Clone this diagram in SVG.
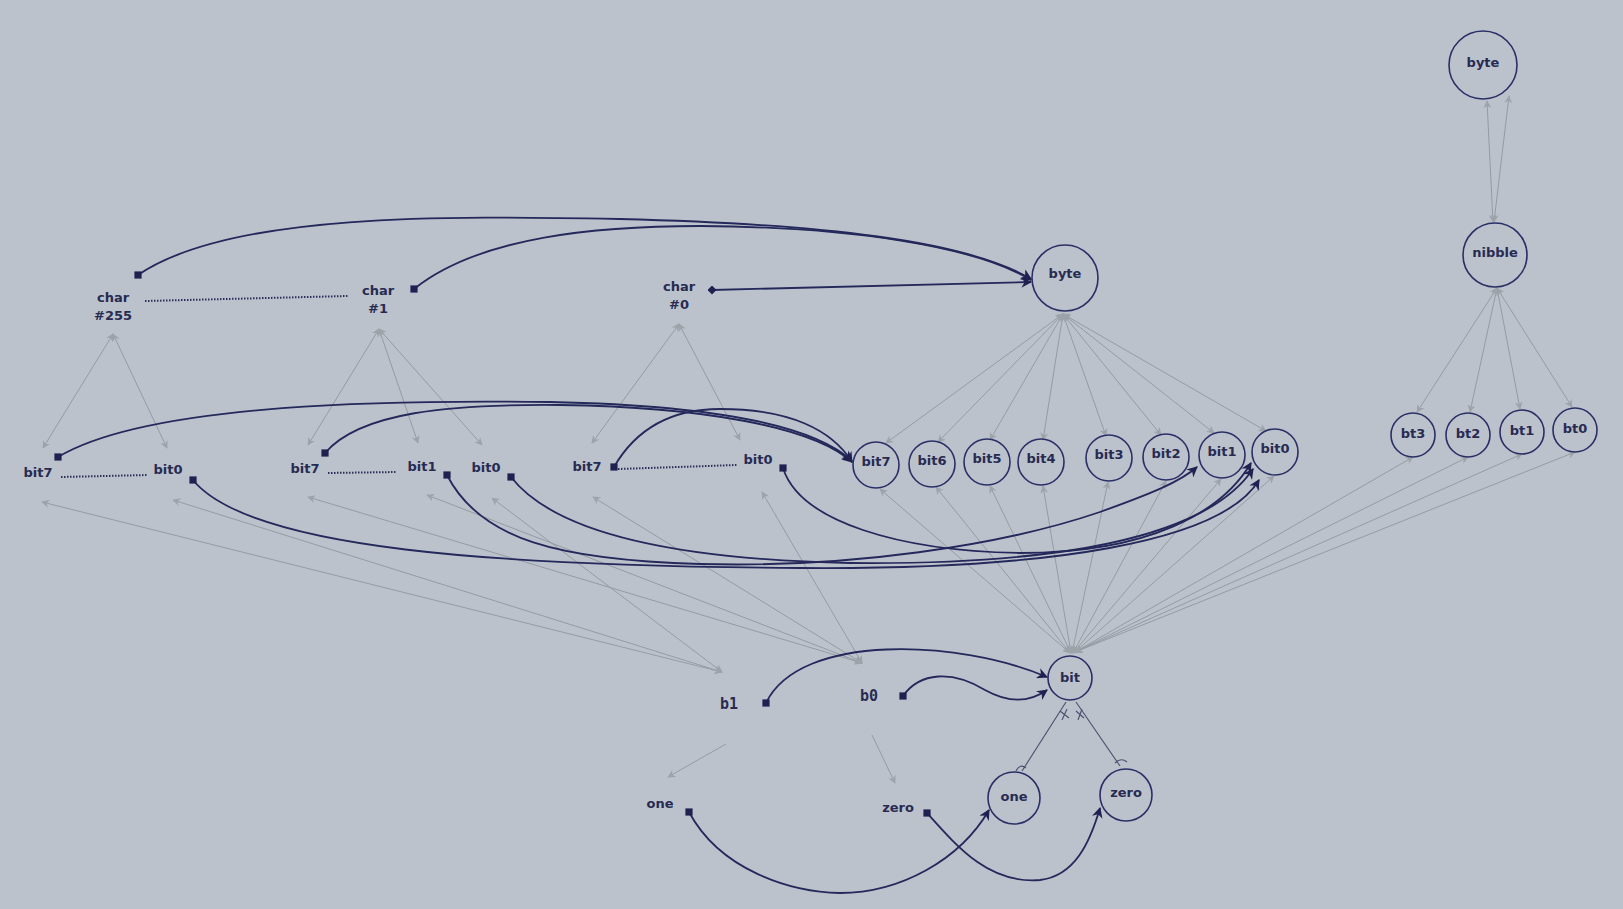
<svg xmlns="http://www.w3.org/2000/svg" width="1623" height="909" viewBox="0 0 1623 909">
<defs>
<style>
.bg{fill:#bcc2cc}
.t{font-family:"DejaVu Sans","Liberation Sans",sans-serif;font-weight:bold;font-size:13px;fill:#272b52;text-anchor:middle}
.tm{font-family:"DejaVu Sans Mono","Liberation Mono",monospace;font-weight:bold;font-size:15px;fill:#272b52;text-anchor:middle}
.c{fill:none;stroke:#2a2f66;stroke-width:1.6}
.g{fill:none;stroke:#959ba3;stroke-width:1;marker-start:url(#ga);marker-end:url(#ga)}
.d{fill:none;stroke:#24285a;stroke-width:1.8;marker-start:url(#sq);marker-end:url(#da)}
.dot{fill:none;stroke:#2a2e5a;stroke-width:2;stroke-dasharray:1.5 1.5}
.inh{fill:none;stroke:#4a4f70;stroke-width:1.1}
</style>
<marker id="ga" viewBox="0 0 10 10" refX="9" refY="5" markerWidth="8" markerHeight="8" orient="auto-start-reverse"><path d="M0,0 L10,5 L0,10 L3,5 z" fill="#9ea3aa"/></marker>
<marker id="da" viewBox="0 0 10 10" refX="9" refY="5" markerWidth="6" markerHeight="6" orient="auto"><path d="M0,0 L10,5 L0,10 L3,5 z" fill="#1f2250"/></marker>
<marker id="sq" viewBox="0 0 10 10" refX="5" refY="5" markerWidth="4" markerHeight="4"><rect width="10" height="10" fill="#1f2250"/></marker>
<marker id="dm" viewBox="0 0 10 10" refX="5" refY="5" markerWidth="5" markerHeight="5"><path d="M5,0 L10,5 L5,10 L0,5 z" fill="#1f2250"/></marker>
</defs>
<rect class="bg" x="0" y="0" width="1623" height="909"/>

<g id="connectors">
<path class="g" d="M113,334 L43,448"/>
<path class="g" d="M113,334 L167,448"/>
<path class="g" d="M379,329 L308,445"/>
<path class="g" d="M379,329 L418,443"/>
<path class="g" d="M379,329 L482,445"/>
<path class="g" d="M679,324 L592,443"/>
<path class="g" d="M679,324 L740,440"/>
<path class="g" d="M1063,314 L886,443"/>
<path class="g" d="M1063,314 L938,442"/>
<path class="g" d="M1063,314 L990,440"/>
<path class="g" d="M1063,314 L1043,440"/>
<path class="g" d="M1063,314 L1106,436"/>
<path class="g" d="M1063,314 L1161,435"/>
<path class="g" d="M1063,314 L1214,433"/>
<path class="g" d="M1063,314 L1266,431"/>
<path class="g" d="M880,489 L1070,653"/>
<path class="g" d="M936,487 L1070,653"/>
<path class="g" d="M990,486 L1071,653"/>
<path class="g" d="M1043,486 L1071,653"/>
<path class="g" d="M1108,482 L1072,653"/>
<path class="g" d="M1166,481 L1073,653"/>
<path class="g" d="M1221,479 L1073,653"/>
<path class="g" d="M1274,476 L1074,653"/>
<path class="g" d="M1413,457 L1075,652"/>
<path class="g" d="M1468,457 L1075,652"/>
<path class="g" d="M1522,454 L1075,652"/>
<path class="g" d="M1575,452 L1075,652"/>
<path class="g" d="M1487,101 L1493,222"/>
<path class="g" d="M1509,96 L1494,222"/>
<path class="g" d="M1497,288 L1417,412"/>
<path class="g" d="M1497,288 L1470,412"/>
<path class="g" d="M1497,288 L1520,409"/>
<path class="g" d="M1497,288 L1572,407"/>
<path class="g" d="M42,502 L722,672"/>
<path class="g" d="M173,500 L722,672"/>
<path class="g" d="M492,498 L722,672"/>
<path class="g" d="M308,497 L862,663"/>
<path class="g" d="M427,495 L862,663"/>
<path class="g" d="M593,497 L862,663"/>
<path class="g" d="M762,492 L862,663"/>
<path class="g" d="M726,744 L668,777" style="marker-start:none"/>
<path class="g" d="M872,735 L895,783" style="marker-start:none"/>

<path class="dot" d="M145,301 L348,296"/>
<path class="dot" d="M61,477 L148,475"/>
<path class="dot" d="M328,473 L397,472"/>
<path class="dot" d="M618,469 L737,465"/>

<path class="inh" d="M1066,702 L1022,771"/>
<path class="inh" d="M1076,702 L1120,766"/>
<path class="inh" d="M1060,711 L1069,718 M1067,709 L1062,720"/>
<path class="inh" d="M1076,711 L1084,718 M1082,709 L1078,720"/>
<path class="inh" d="M1016,771 Q1020,763 1026,768"/>
<path class="inh" d="M1115,763 Q1121,757 1127,762"/>

<path class="d" d="M138,275 C230,212 450,216 620,219 C820,224 965,240 1031,279"/>
<path class="d" d="M414,289 C480,236 600,226 700,226 C850,227 975,246 1031,280"/>
<path class="d" d="M712,290 L1031,282" style="marker-start:url(#dm)"/>
<path class="d" d="M58,457 C150,402 400,400 550,402 C700,405 810,422 852,461"/>
<path class="d" d="M325,453 C360,412 450,404 560,405 C700,407 812,426 852,462"/>
<path class="d" d="M614,467 C640,422 680,409 720,409 C790,409 832,430 852,462"/>
<path class="d" d="M447,475 C480,540 560,560 700,564 C850,568 1000,546 1100,512 C1150,494 1180,482 1197,467"/>
<path class="d" d="M783,468 C800,522 900,551 1020,553 C1150,553 1222,512 1251,463"/>
<path class="d" d="M511,477 C560,540 700,560 850,563 C1050,565 1205,540 1253,469"/>
<path class="d" d="M193,480 C250,550 500,566 800,568 C1050,570 1222,542 1259,480"/>
<path class="d" d="M766,703 C800,632 960,640 1047,677"/>
<path class="d" d="M903,696 C920,672 952,670 985,690 C1010,704 1030,702 1047,690"/>
<path class="d" d="M689,812 C720,870 790,892 840,893 C900,893 960,860 989,810"/>
<path class="d" d="M927,813 C960,850 990,884 1040,880 C1075,876 1090,842 1100,808"/>
</g>

<g id="char255"><text class="t" x="113" y="302">char</text><text class="t" x="113" y="320">#255</text></g>
<g id="char1"><text class="t" x="378" y="295">char</text><text class="t" x="378" y="313">#1</text></g>
<g id="char0"><text class="t" x="679" y="291">char</text><text class="t" x="679" y="309">#0</text></g>

<g id="c255-bit7"><text class="t" x="38" y="477">bit7</text></g>
<g id="c255-bit0"><text class="t" x="168" y="474">bit0</text></g>
<g id="c1-bit7"><text class="t" x="305" y="473">bit7</text></g>
<g id="c1-bit1"><text class="t" x="422" y="471">bit1</text></g>
<g id="c1-bit0"><text class="t" x="486" y="472">bit0</text></g>
<g id="c0-bit7"><text class="t" x="587" y="471">bit7</text></g>
<g id="c0-bit0"><text class="t" x="758" y="464">bit0</text></g>

<g id="byte"><circle class="c" cx="1065" cy="278" r="33"/><text class="t" x="1065" y="278">byte</text></g>
<g id="bit7"><circle class="c" cx="876" cy="465" r="23"/><text class="t" x="876" y="466">bit7</text></g>
<g id="bit6"><circle class="c" cx="932" cy="464" r="23"/><text class="t" x="932" y="465">bit6</text></g>
<g id="bit5"><circle class="c" cx="987" cy="462" r="23"/><text class="t" x="987" y="463">bit5</text></g>
<g id="bit4"><circle class="c" cx="1041" cy="462" r="23"/><text class="t" x="1041" y="463">bit4</text></g>
<g id="bit3"><circle class="c" cx="1109" cy="458" r="23"/><text class="t" x="1109" y="459">bit3</text></g>
<g id="bit2"><circle class="c" cx="1166" cy="457" r="23"/><text class="t" x="1166" y="458">bit2</text></g>
<g id="bit1"><circle class="c" cx="1222" cy="455" r="23"/><text class="t" x="1222" y="456">bit1</text></g>
<g id="bit0"><circle class="c" cx="1275" cy="452" r="23"/><text class="t" x="1275" y="453">bit0</text></g>

<g id="byte2"><circle class="c" cx="1483" cy="65" r="34"/><text class="t" x="1483" y="67">byte</text></g>
<g id="nibble"><circle class="c" cx="1495" cy="255" r="32"/><text class="t" x="1495" y="257">nibble</text></g>
<g id="bt3"><circle class="c" cx="1413" cy="435" r="22"/><text class="t" x="1413" y="438">bt3</text></g>
<g id="bt2"><circle class="c" cx="1468" cy="435" r="22"/><text class="t" x="1468" y="438">bt2</text></g>
<g id="bt1"><circle class="c" cx="1522" cy="432" r="22"/><text class="t" x="1522" y="435">bt1</text></g>
<g id="bt0"><circle class="c" cx="1575" cy="430" r="22"/><text class="t" x="1575" y="433">bt0</text></g>

<g id="bitnode"><circle class="c" cx="1070" cy="678" r="22"/><text class="t" x="1070" y="682">bit</text></g>
<g id="onenode"><circle class="c" cx="1014" cy="798" r="26"/><text class="t" x="1014" y="801">one</text></g>
<g id="zeronode"><circle class="c" cx="1126" cy="795" r="26"/><text class="t" x="1126" y="797">zero</text></g>

<g id="b1"><text class="tm" x="729" y="709">b1</text></g>
<g id="b0"><text class="tm" x="869" y="701">b0</text></g>
<g id="one"><text class="t" x="660" y="808">one</text></g>
<g id="zero"><text class="t" x="898" y="812">zero</text></g>
</svg>
